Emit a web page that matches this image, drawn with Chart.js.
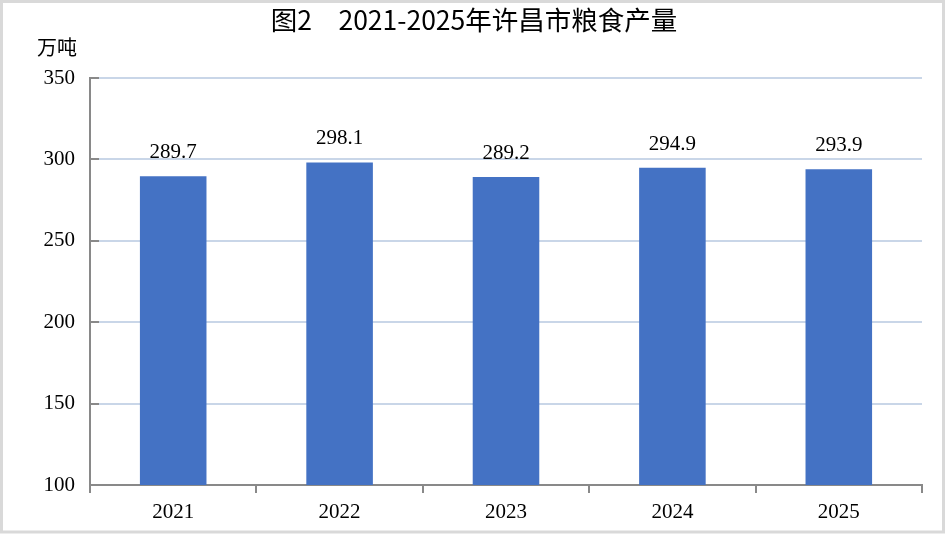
<!DOCTYPE html>
<html><head><meta charset="utf-8">
<script src="https://cdn.jsdelivr.net/npm/chart.js@4"></script>
<style>html,body{margin:0;padding:0;background:#fff;}#wrap{width:947px;height:534px;position:relative;}</style>
</head><body><div id="wrap"><canvas id="c" width="947" height="534"></canvas></div>
<script>
const categories = ['2021','2022','2023','2024','2025'];
const production = [289.7, 298.1, 289.2, 294.9, 293.9];
const yTicks = [100, 150, 200, 250, 300, 350];
const titleText = '图2　2021-2025年许昌市粮食产量';
const unitText = '万吨';

const serif = '"Liberation Serif","Times New Roman",serif';
const cjk = '"Noto Sans CJK SC","Noto Sans",sans-serif';

const decor = {
  id: 'decor',
  afterDraw(chart) {
    const ctx = chart.ctx;
    const y = chart.scales.y;
    const ca = chart.chartArea;
    ctx.save();
    // y inside ticks
    ctx.strokeStyle = '#898989'; ctx.lineWidth = 2;
    yTicks.forEach(v => {
      const py = Math.round(y.getPixelForValue(v));
      ctx.beginPath(); ctx.moveTo(ca.left, py); ctx.lineTo(ca.left + 9, py); ctx.stroke();
    });
    // data labels
    const meta = chart.getDatasetMeta(0);
    ctx.fillStyle = '#000'; ctx.font = '21px ' + serif;
    ctx.textAlign = 'center'; ctx.textBaseline = 'alphabetic';
    meta.data.forEach((bar, i) => {
      ctx.fillText(production[i].toFixed(1), bar.x, bar.y - 18);
    });
    // title
    ctx.font = '400 26.5px ' + cjk;
    ctx.textBaseline = 'middle';
    ctx.fillText(titleText, 474, 20);
    // unit
    ctx.font = '20px ' + cjk;
    ctx.textAlign = 'left';
    ctx.fillText(unitText, 37, 47);
    // border
    ctx.strokeStyle = '#d9d9d9'; ctx.lineWidth = 3;
    ctx.strokeRect(1.5, 1.5, 947 - 5, 534 - 3.5);
    ctx.restore();
  }
};

new Chart(document.getElementById('c'), {
  type: 'bar',
  data: { labels: categories, datasets: [{ data: production, backgroundColor: '#4472C4', barPercentage: 0.8, categoryPercentage: 0.5 }] },
  options: {
    responsive: false, animation: false,
    layout: { padding: { top: 78, right: 25, left: 0, bottom: 0 } },
    plugins: { legend: { display: false }, title: { display: false }, tooltip: { enabled: false } },
    scales: {
      x: {
        offset: true,
        grid: { offset: true, drawOnChartArea: false, drawTicks: true, tickLength: 8, color: '#898989', lineWidth: 2 },
        border: { display: true, color: '#898989', width: 2 },
        ticks: { color: '#000', font: { family: serif, size: 21 }, padding: 7 },
        afterFit(s) { s.height = 534 - 485; }
      },
      y: {
        min: 100, max: 350,
        afterBuildTicks(s) { s.ticks = yTicks.map(v => ({ value: v })); },
        grid: { color: '#c9d6e8', lineWidth: 2, drawTicks: false },
        border: { display: true, color: '#898989', width: 2 },
        ticks: { color: '#000', font: { family: serif, size: 21 }, padding: 15 },
        afterFit(s) { s.width = 90; }
      }
    }
  },
  plugins: [decor]
});
</script></body></html>
